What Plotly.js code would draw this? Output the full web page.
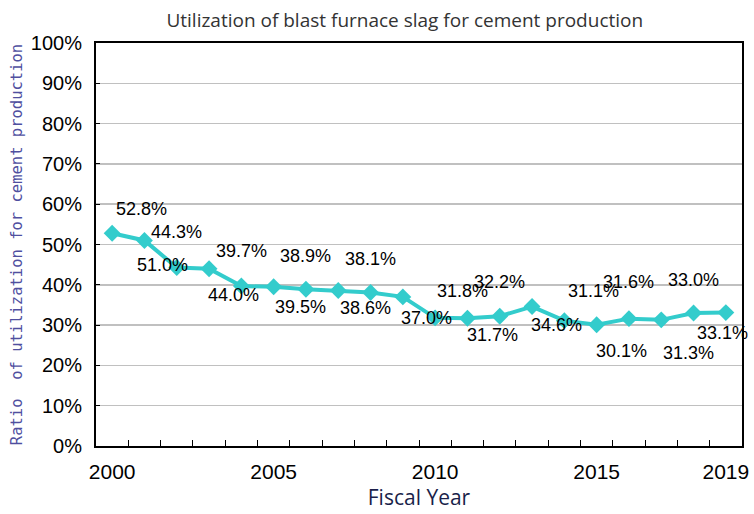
<!DOCTYPE html>
<html>
<head>
<meta charset="utf-8">
<script src="https://cdn.plot.ly/plotly-3.0.1.min.js"></script>
<style>html,body{margin:0;padding:0;background:#fff;}#chart{width:754px;height:514px;}</style>
</head>
<body>
<div id="chart"></div>
<script>
// ---- data ----
const years = ['2000','2001','2002','2003','2004','2005','2006','2007','2008','2009',
               '2010','2011','2012','2013','2014','2015','2016','2017','2018','2019'];
const ratio = [52.8, 51.0, 44.3, 44.0, 39.7, 39.5, 38.9, 38.6, 38.1, 37.0,
               31.8, 31.7, 32.2, 34.6, 31.1, 30.1, 31.6, 31.3, 33.0, 33.1];
const xTickLabels = ['2000','','','','','2005','','','','','2010','','','','','2015','','','','2019'];
const yTickVals = [0,10,20,30,40,50,60,70,80,90,100];
const yTickText = ['0%','10%','20%','30%','40%','50%','60%','70%','80%','90%','100%'];
const chartTitle = 'Utilization of blast furnace slag for cement production';
const xTitle = 'Fiscal Year';
const yTitle = 'Ratio  of utilization for cement production';

// ---- label placement (style only: pixel offsets of each value label) ----
const labelDX = [29, 18, 0, 24, 0, 27, 0, 27, 0, 24, 27, 25, 0, 24, 29, 25, 0, 27, 0, -3];
const labelDY = [-24, 25, -35, 26, -35, 20, -33, 18, -33, 21, -27, 17, -34, 18, -30, 26, -37, 33, -33, 20];

const labelFont = {family: 'Liberation Sans, Arial, sans-serif', size: 18, color: '#000'};

// category axis: annotation x is the category's serial index
const annotations = ratio.map((v, i) => ({
  x: years.indexOf(years[i]), y: v, xref: 'x', yref: 'y',
  text: v.toFixed(1) + '%', showarrow: false,
  xshift: labelDX[i], yshift: -labelDY[i],
  font: labelFont, xanchor: 'center', yanchor: 'middle'
}));

const trace = {
  type: 'scatter', mode: 'lines+markers',
  x: years, y: ratio,
  line: {color: '#33CCCC', width: 4},
  marker: {symbol: 'diamond', size: 13, color: '#33CCCC'},
  hoverinfo: 'x+y'
};

const layout = {
  width: 754, height: 514,
  margin: {l: 96, r: 12, t: 43, b: 68},
  paper_bgcolor: '#fff', plot_bgcolor: '#fff',
  showlegend: false,
  title: {
    text: chartTitle, x: 0.478, xref: 'paper', xanchor: 'center',
    y: 0.961, yref: 'container', yanchor: 'middle',
    font: {family: 'Open Sans, sans-serif', size: 19, color: '#333'}
  },
  xaxis: {
    type: 'category',
    tickmode: 'array', tickvals: years, ticktext: xTickLabels,
    tickson: 'boundaries', tickangle: 0,
    ticks: 'inside', ticklen: 6, tickcolor: '#000', tickwidth: 1,
    showgrid: false,
    showline: true, linecolor: '#000', linewidth: 2, mirror: true,
    range: [-0.5, 19.5],
    tickfont: {family: 'Liberation Sans, Arial, sans-serif', size: 21, color: '#000'},
    ticklabelstandoff: 6,
    title: {text: xTitle, standoff: 8,
            font: {family: 'Open Sans, sans-serif', size: 21, color: '#1a1f4a'}},
    automargin: false, zeroline: false
  },
  yaxis: {
    range: [0, 100],
    tickmode: 'array', tickvals: yTickVals, ticktext: yTickText,
    ticks: 'inside', ticklen: 4, tickcolor: '#000',
    showgrid: true, gridcolor: '#c0c0c0', gridwidth: 1.5,
    showline: true, linecolor: '#000', linewidth: 2, mirror: true,
    zeroline: false,
    tickfont: {family: 'Liberation Sans, Arial, sans-serif', size: 20, color: '#000'},
    ticklabelstandoff: 8,
    title: {text: yTitle, standoff: 4,
            font: {family: 'DejaVu Sans Mono, monospace', size: 15.5, color: '#4f4f9f'}},
    automargin: false
  },
  annotations: annotations
};

Plotly.newPlot('chart', [trace], layout, {displayModeBar: false, staticPlot: true});
</script>
</body>
</html>
